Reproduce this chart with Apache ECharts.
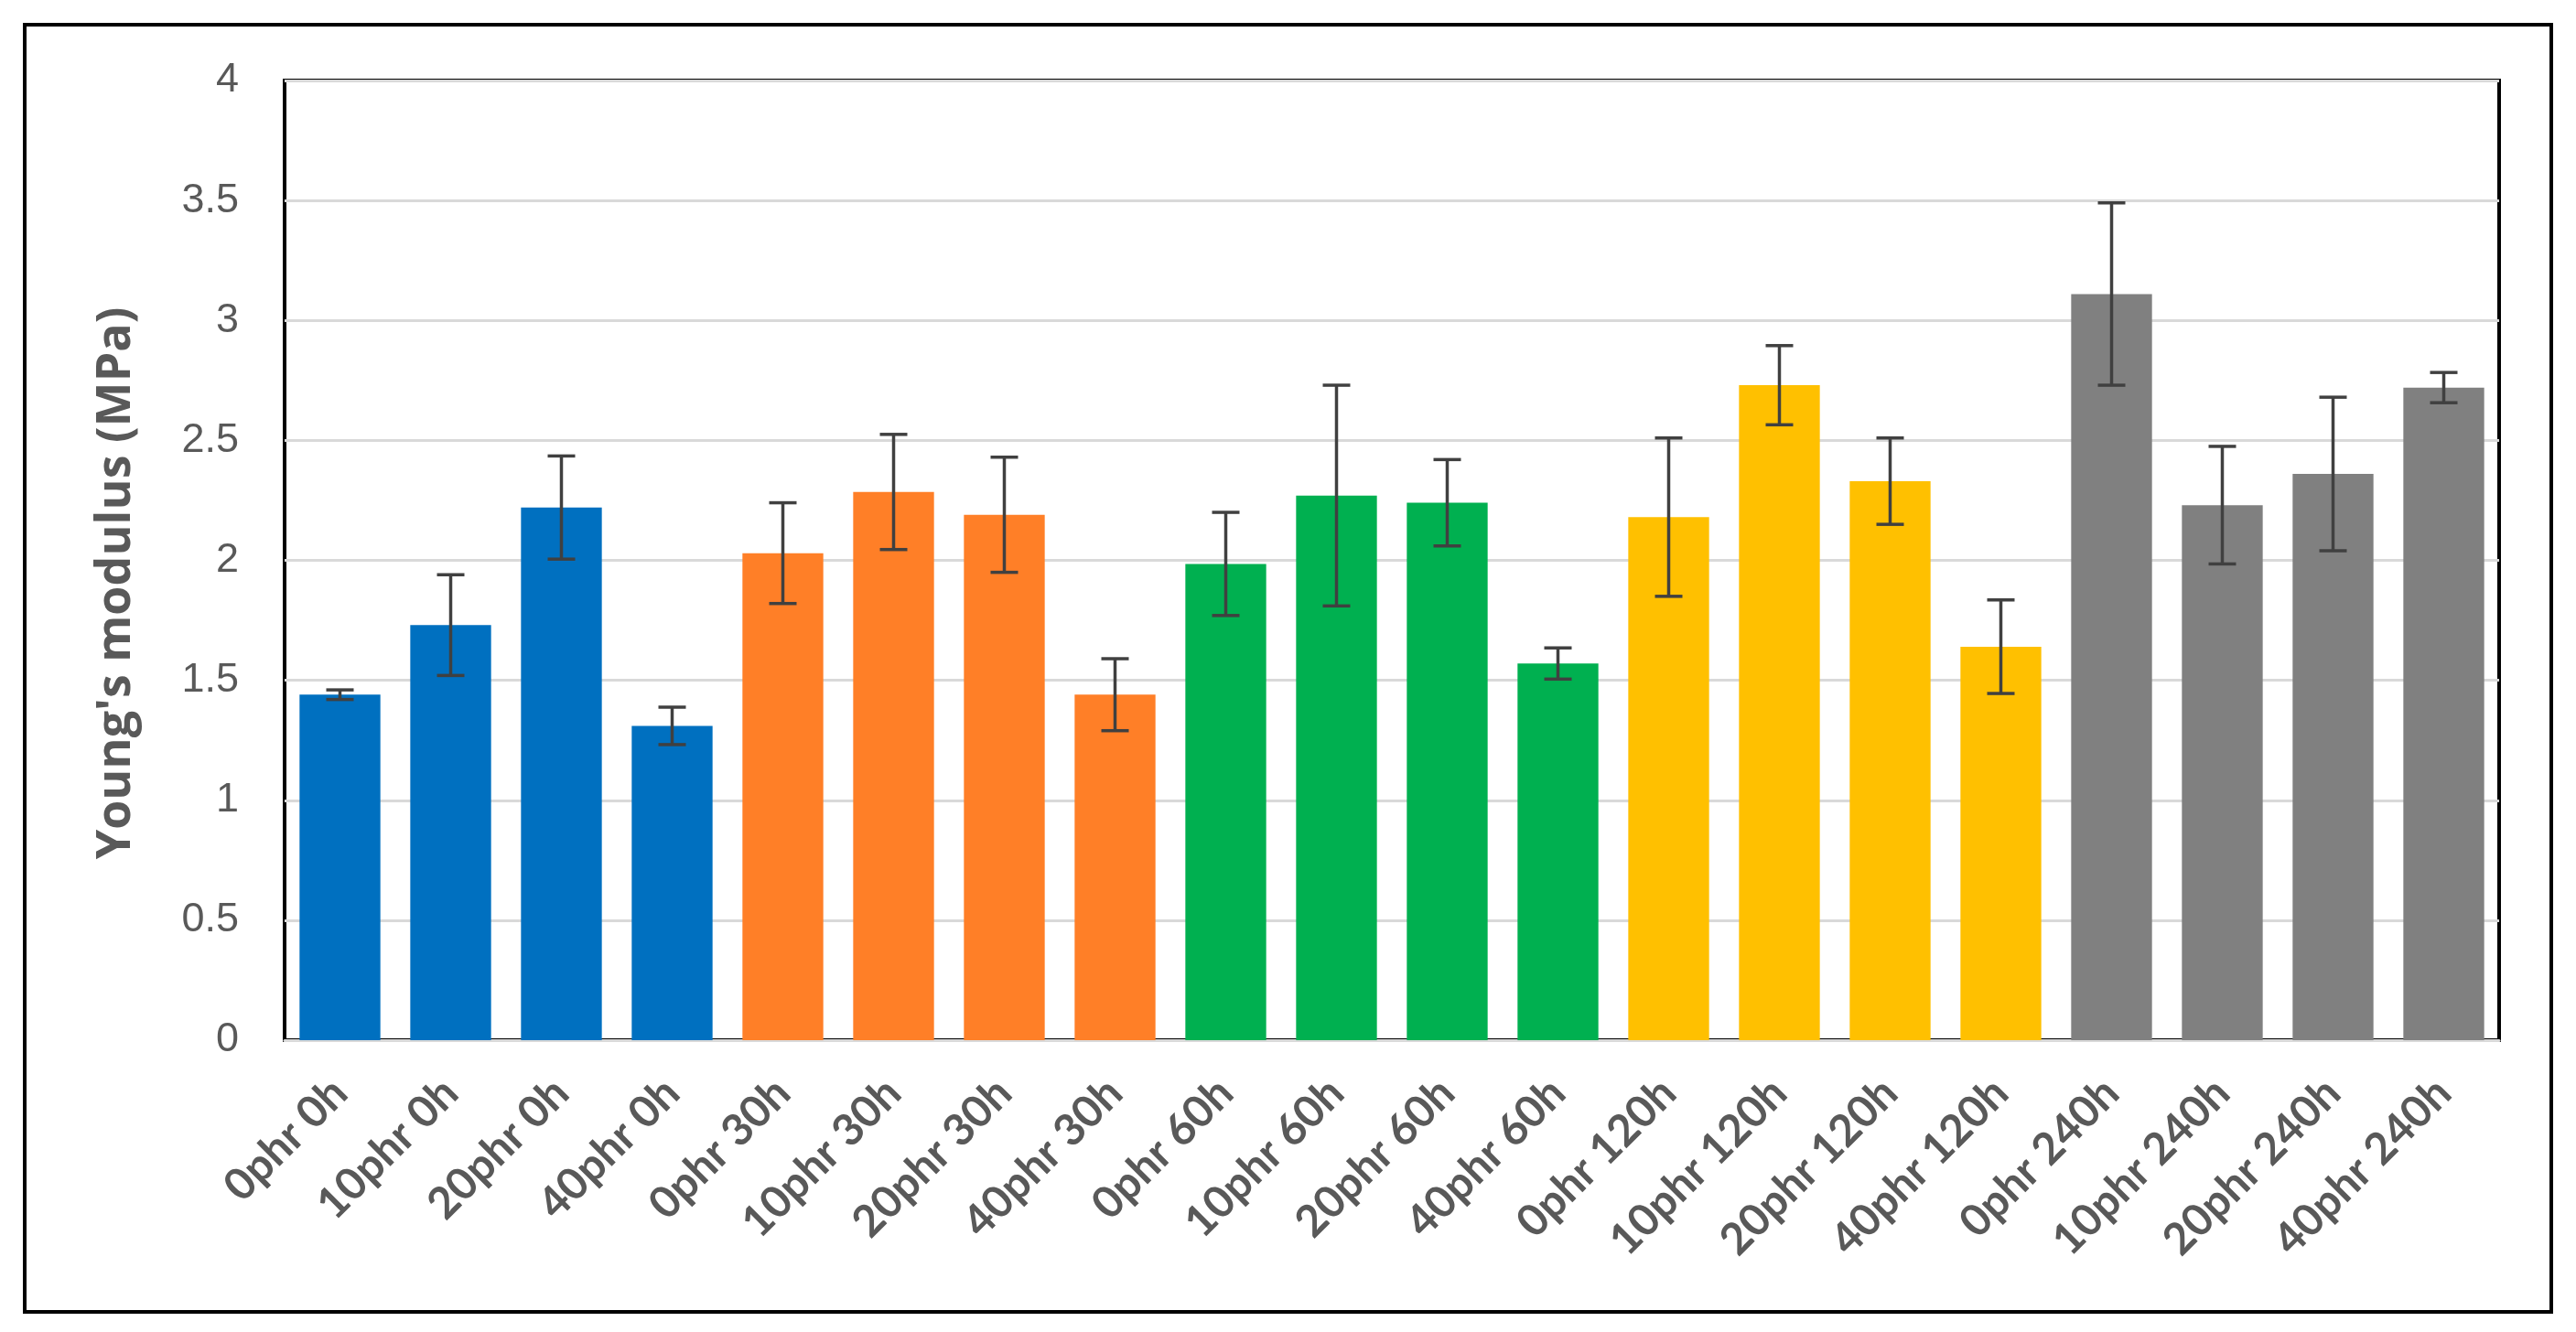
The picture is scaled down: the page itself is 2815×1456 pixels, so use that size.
<!DOCTYPE html>
<html>
<head>
<meta charset="utf-8">
<script src="https://cdn.jsdelivr.net/npm/echarts@6/dist/echarts.min.js"></script>
<style>
html,body{margin:0;padding:0;background:#fff;}
#chart{width:2815px;height:1456px;}
</style>
</head>
<body>
<div id="chart"></div>
<script>
// ---- data ----
var categories = [
  '0phr 0h','10phr 0h','20phr 0h','40phr 0h',
  '0phr 30h','10phr 30h','20phr 30h','40phr 30h',
  '0phr 60h','10phr 60h','20phr 60h','40phr 60h',
  '0phr 120h','10phr 120h','20phr 120h','40phr 120h',
  '0phr 240h','10phr 240h','20phr 240h','40phr 240h'
];
var means = [
  1.44, 1.73, 2.22, 1.31,
  2.03, 2.285, 2.19, 1.44,
  1.985, 2.27, 2.24, 1.57,
  2.18, 2.73, 2.33, 1.64,
  3.11, 2.23, 2.36, 2.72
];
var errors = [
  0.02, 0.21, 0.215, 0.078,
  0.21, 0.24, 0.24, 0.15,
  0.215, 0.46, 0.18, 0.065,
  0.33, 0.165, 0.18, 0.195,
  0.38, 0.245, 0.32, 0.063
];
var groupColors = ['#0070C0', '#FF7F27', '#00B050', '#FFC000', '#808080'];
var groupSize = 4;
var yTicks = {min: 0, max: 4, interval: 0.5};
var yTitle = "Young's modulus (MPa)";

// ---- build ----
var barData = means.map(function (v, i) {
  return {value: v, itemStyle: {color: groupColors[Math.floor(i / groupSize)]}};
});
var errData = means.map(function (v, i) {
  return [i, v - errors[i], v + errors[i]];
});

var chart = echarts.init(document.getElementById('chart'), null, {renderer: 'canvas'});
var capHalf = 15;
var errStyle = {stroke: '#404040', lineWidth: 3.5};

chart.setOption({
  backgroundColor: '#ffffff',
  animation: false,
  graphic: [{
    type: 'rect',
    shape: {x: 27, y: 27, width: 2761, height: 1407},
    style: {fill: 'none', stroke: '#000000', lineWidth: 4},
    z: 100
  }],
  grid: {
    left: 311, right: 84, top: 88, bottom: 319,
    show: true, borderColor: '#000000', borderWidth: 4, backgroundColor: 'transparent'
  },
  xAxis: {
    type: 'category',
    data: categories,
    axisLine: {show: true, lineStyle: {color: '#D9D9D9', width: 3}},
    axisTick: {show: false},
    axisLabel: {
      interval: 0, rotate: 45, margin: 50,
      fontFamily: 'Lato', fontWeight: 'bold', fontSize: 48, color: '#595959'
    }
  },
  yAxis: {
    type: 'value',
    min: yTicks.min, max: yTicks.max, interval: yTicks.interval,
    name: yTitle,
    nameLocation: 'middle',
    nameGap: 158,
    nameTextStyle: {fontFamily: 'Open Sans', fontWeight: 'bold', fontSize: 52, color: '#595959', padding: [0, 50, 0, 0]},
    axisLine: {show: false},
    axisTick: {show: false},
    axisLabel: {margin: 50, fontFamily: 'Liberation Sans', fontSize: 45, color: '#595959'},
    splitLine: {lineStyle: {color: '#D9D9D9', width: 3}}
  },
  series: [{
    type: 'bar',
    data: barData,
    barCategoryGap: '27%',
    z: 2
  }, {
    type: 'custom',
    data: errData,
    z: 3,
    renderItem: function (params, api) {
      var x = api.value(0);
      var pLo = api.coord([x, api.value(1)]);
      var pHi = api.coord([x, api.value(2)]);
      return {
        type: 'group',
        children: [
          {type: 'line', shape: {x1: pHi[0], y1: pHi[1], x2: pLo[0], y2: pLo[1]}, style: errStyle},
          {type: 'line', shape: {x1: pHi[0] - capHalf, y1: pHi[1], x2: pHi[0] + capHalf, y2: pHi[1]}, style: errStyle},
          {type: 'line', shape: {x1: pLo[0] - capHalf, y1: pLo[1], x2: pLo[0] + capHalf, y2: pLo[1]}, style: errStyle}
        ]
      };
    }
  }]
});
</script>
</body>
</html>
